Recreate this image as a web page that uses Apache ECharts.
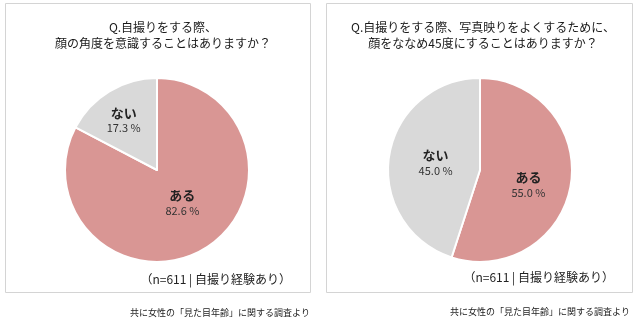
<!DOCTYPE html>
<html>
<head>
<meta charset="utf-8">
<script src="https://cdn.jsdelivr.net/npm/echarts@6/dist/echarts.min.js"></script>
<style>
  html, body { margin: 0; padding: 0; background: #fff; }
  #chart { width: 640px; height: 323px; }
</style>
</head>
<body>
<div id="chart"></div>
<script>
// Survey answers (percent), one pie per question
const categories = ['ある', 'ない'];
const angleValues = [82.6, 17.3];
const tiltValues = [55.0, 45.0];
const titles = [
  'Q.自撮りをする際、\n顔の角度を意識することはありますか？',
  'Q.自撮りをする際、写真映りをよくするために、\n顔をななめ45度にすることはありますか？'
];
const sampleNote = '（n=611 | 自撮り経験あり）';
const sourceNote = '共に女性の「見た目年齢」に関する調査より';

const sliceColors = ['#d99694', '#d9d9d9'];
const FONT = '"Noto Sans CJK JP", "Noto Sans", sans-serif';

// labelShift: small nudges of the in-slice labels, per slice
function pieSeries(values, center, labelShift) {
  return {
    type: 'pie',
    center: center,
    radius: 92,
    startAngle: 90,
    clockwise: true,
    animation: false,
    silent: true,
    data: categories.map((name, i) => ({
      name: name,
      value: values[i],
      itemStyle: { color: sliceColors[i] },
      label: { offset: labelShift[i] }
    })),
    itemStyle: { borderColor: '#ffffff', borderWidth: 2 },
    label: {
      show: true,
      position: 'inside',
      formatter: p => '{n|' + p.name + '}\n{v|' + p.value.toFixed(1) + ' %}',
      rich: {
        n: { fontFamily: FONT, fontSize: 13, fontWeight: 'bold', color: '#222', lineHeight: 16 },
        v: { fontFamily: FONT, fontSize: 11, color: '#333', lineHeight: 15 }
      }
    },
    labelLine: { show: false }
  };
}

const chart = echarts.init(document.getElementById('chart'), null, { renderer: 'canvas' });

const textStyle = (size, color, align) => ({ fontFamily: FONT, fontSize: size, fill: color, align: align });

chart.setOption({
  backgroundColor: '#ffffff',
  title: [
    {
      text: titles[0], left: 158, top: 14, textAlign: 'center',
      textStyle: { fontFamily: FONT, fontSize: 12, fontWeight: 'normal', color: '#1a1a1a', lineHeight: 16, align: 'center' }
    },
    {
      text: titles[1], left: 478, top: 14, textAlign: 'center',
      textStyle: { fontFamily: FONT, fontSize: 12, fontWeight: 'normal', color: '#1a1a1a', lineHeight: 16, align: 'center' }
    }
  ],
  graphic: [
    { type: 'rect', shape: { x: 5.5, y: 3.5, width: 305, height: 289 }, style: { fill: 'none', stroke: '#d4d4d4', lineWidth: 1 }, silent: true },
    { type: 'rect', shape: { x: 326.5, y: 3.5, width: 306, height: 289 }, style: { fill: 'none', stroke: '#d4d4d4', lineWidth: 1 }, silent: true },
    { type: 'text', x: 291, y: 273, style: Object.assign({ text: sampleNote }, textStyle(12, '#222', 'right')), silent: true },
    { type: 'text', x: 614, y: 271, style: Object.assign({ text: sampleNote }, textStyle(12, '#222', 'right')), silent: true },
    { type: 'text', x: 310, y: 308, style: Object.assign({ text: sourceNote }, textStyle(9, '#222', 'right')), silent: true },
    { type: 'text', x: 630, y: 307, style: Object.assign({ text: sourceNote }, textStyle(9, '#222', 'right')), silent: true }
  ],
  series: [
    pieSeries(angleValues, [157, 170], [[0, -9], [-8, -8]]),
    pieSeries(tiltValues, [480, 170], [[0, 7], [4, 0]])
  ]
});
</script>
</body>
</html>
